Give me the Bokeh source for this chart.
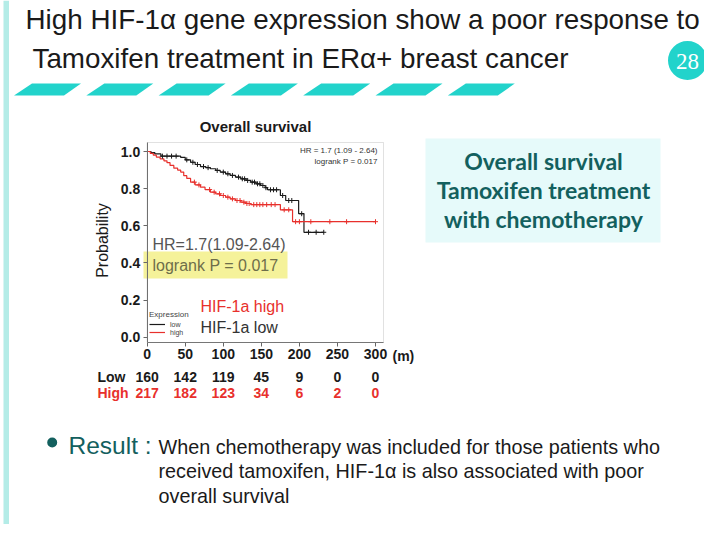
import numpy as np
from bokeh.plotting import figure
from bokeh.models import (Range1d, LinearAxis, FixedTicker, Label, BoxAnnotation,
                          Legend, LegendItem, PrintfTickFormatter)
from bokeh.core.properties import value
from bokeh.embed import file_html
from bokeh.resources import INLINE

# ---------------- data ----------------
low_t = [0, 5, 10, 18, 44, 50, 57, 63, 70, 77, 83, 90, 96, 103, 109, 116, 123, 130,
         136, 143, 149, 155, 158, 175, 182, 199, 206]
low_s = [1.0, 0.994, 0.987, 0.975, 0.968, 0.955, 0.942, 0.93, 0.919, 0.913, 0.907, 0.898,
         0.889, 0.88, 0.871, 0.862, 0.853, 0.844, 0.835, 0.826, 0.817, 0.805, 0.794,
         0.763, 0.736, 0.665, 0.565]
low_end = 232
high_t = [0, 4, 8, 12, 17, 22, 26, 30, 35, 40, 44, 48, 52, 57, 63, 70, 76, 83, 90, 96,
          103, 109, 116, 123, 130, 136, 175, 191]
high_s = [1.0, 0.99, 0.98, 0.97, 0.96, 0.95, 0.94, 0.925, 0.91, 0.9, 0.889, 0.87, 0.855,
          0.835, 0.82, 0.808, 0.795, 0.781, 0.772, 0.763, 0.754, 0.745, 0.736, 0.727,
          0.72, 0.714, 0.686, 0.622]
high_end = 300
low_cens = [20, 26, 32, 38, 52, 60, 66, 74, 80, 92, 100, 106, 112, 120, 125, 128, 132,
            138, 141, 145, 148, 152, 156, 162, 166, 170, 178, 186, 190, 203, 212, 222, 232]
high_cens = [62, 68, 82, 88, 95, 100, 106, 112, 118, 122, 127, 131, 134, 140, 144, 148,
             152, 157, 163, 168, 180, 186, 195, 200, 215, 240, 262, 300]

risk_t = [0, 50, 100, 150, 200, 250, 300]
risk_low = [160, 142, 119, 45, 9, 0, 0]
risk_high = [217, 182, 123, 34, 6, 2, 0]
y_ticks = [0.0, 0.2, 0.4, 0.6, 0.8, 1.0]

title_lines = ["High HIF-1α gene expression show a poor response to",
               "Tamoxifen treatment in ERα+ breast cancer"]
box_lines = ["Overall survival", "Tamoxifen treatment", "with chemotherapy"]
result_lines = ["When chemotherapy was included for those patients who",
                "received tamoxifen, HIF-1α is also associated with poor",
                "overall survival"]

# ---------------- styling / layout ----------------
RED = "#e8302c"
BLK = "#1a1a1a"
TEAL = "#13605e"
TURQ = "#22d3cb"
FONT = "Liberation Sans"

W, H = 704, 524
X0, PXM = 146.7, 0.761         # canvas px of month 0, px per month
Y1, Y0 = 151.0, 336.7          # canvas px of probability 1 and 0
UNIT = Y0 - Y1
BOX_L, BOX_R = 0.0, (383 - X0) / PXM
BOX_B, BOX_T = -(342 - Y0) / UNIT, 1 + (Y1 - 142) / UNIT

p = figure(width=W, height=H, output_backend="svg", toolbar_location=None,
           x_range=Range1d(-X0 / PXM, (W - X0) / PXM),
           y_range=Range1d(-(H - Y0) / UNIT, 1 + Y1 / UNIT),
           x_axis_location=None, y_axis_location=None,
           min_border=0, min_border_left=0, min_border_right=0,
           min_border_top=0, min_border_bottom=0)
p.extra_x_ranges = {"page": Range1d(0, W)}
p.extra_y_ranges = {"page": Range1d(H, 0)}
p.grid.visible = False
p.outline_line_color = None
p.background_fill_color = "white"
p.border_fill_color = "white"

# plot box
p.add_layout(BoxAnnotation(left=BOX_L, right=BOX_R, bottom=BOX_B, top=BOX_T,
                           fill_alpha=0, line_color="#9a9a9a", line_width=1))

# axes (fixed at the chart's box edges)
yax = LinearAxis(fixed_location=0, ticker=FixedTicker(ticks=y_ticks),
                 formatter=PrintfTickFormatter(format="%.1f"), bounds=(BOX_B, BOX_T))
xax = LinearAxis(fixed_location=BOX_B, ticker=FixedTicker(ticks=risk_t),
                 bounds=(BOX_L, BOX_R))
for ax in (xax, yax):
    ax.axis_line_color = "#666666"
    ax.major_tick_line_color = "#666666"
    ax.major_tick_out = 4
    ax.major_tick_in = 0
    ax.minor_tick_line_color = None
    ax.major_label_text_font = FONT
    ax.major_label_text_font_size = "14px"
    ax.major_label_text_font_style = "bold"
    ax.major_label_text_color = BLK
yax.major_label_standoff = 3
xax.major_label_standoff = 2
p.add_layout(yax, "left")
p.add_layout(xax, "below")

# curves
def step_y(ts, ss, q):
    idx = np.searchsorted(np.array(ts), np.array(q), side="right") - 1
    return list(np.array(ss)[idx])

low_r = p.step(low_t + [low_end], low_s + [low_s[-1]], mode="after", color=BLK, line_width=1.2)
high_r = p.step(high_t + [high_end], high_s + [high_s[-1]], mode="after", color=RED, line_width=1.2)
p.scatter(low_cens, step_y(low_t, low_s, low_cens), marker="cross", size=5, color=BLK, line_width=1)
p.scatter(high_cens, step_y(high_t, high_s, high_cens), marker="cross", size=5, color=RED, line_width=1)

# number at risk rows
for vals, col, py in ((risk_low, BLK, 376), (risk_high, RED, 392)):
    yy = (Y0 - py) / UNIT
    p.text(risk_t, [yy] * len(risk_t), text=[str(v) for v in vals], text_color=col,
           text_font=value(FONT), text_font_size="14px", text_font_style="bold",
           text_align="center", text_baseline="middle")

leg = Legend(items=[LegendItem(label="low", renderers=[low_r]),
                    LegendItem(label="high", renderers=[high_r])],
             title="Expression", location=(147, 186))
leg.title_text_font = FONT
leg.title_text_font_size = "8px"
leg.title_text_font_style = "normal"
leg.title_text_color = "#444444"
leg.title_standoff = 1
leg.label_text_font = FONT
leg.label_text_font_size = "7px"
leg.label_text_color = "#444444"
leg.label_height = 8
leg.glyph_height = 8
leg.glyph_width = 16
leg.spacing = 0
leg.padding = 2
leg.margin = 0
leg.background_fill_alpha = 0
leg.border_line_alpha = 0
p.add_layout(leg, "center")

# ---------------- page decorations (canvas pixel coords via "page" ranges) ----------------
def lab(x, y, text, size, color=BLK, style="normal", align="left", font=FONT, angle=0,
        baseline="middle"):
    p.add_layout(Label(x=x, y=y, x_range_name="page", y_range_name="page", text=text,
                       text_font=font, text_font_size=f"{size}px", text_color=color,
                       text_font_style=style, text_align=align, text_baseline=baseline,
                       angle=angle))

def box(l, r, t, b, color):
    p.add_layout(BoxAnnotation(left=l, right=r, top=t, bottom=b, x_range_name="page",
                               y_range_name="page", fill_color=color, fill_alpha=1,
                               line_color=None, level="underlay"))

# left slide bar
box(3, 8.5, 0, H, "#b4ece7")

# title
lab(25, 18.5, title_lines[0], 27.8)
lab(32, 58, title_lines[1], 27.8)
p.scatter([687], [60], size=39, marker="circle", color=TURQ, line_color=None,
          x_range_name="page", y_range_name="page")
lab(687, 61, "28", 23, color="white", align="center", font="Liberation Serif")
pxs, pys = [], []
for i in range(7):
    x0 = 13.5 + i * 72.3
    pxs.append([x0, x0 + 18, x0 + 67, x0 + 50])
    pys.append([95, 83, 83, 95])
p.patches(pxs, pys, fill_color=TURQ, line_color=None, x_range_name="page", y_range_name="page")

# chart texts
lab(255, 126, "Overall survival", 15, style="bold", align="center")
lab(101.7, 240, "Probability", 16, align="center", angle=np.pi / 2)
lab(377, 150, "HR = 1.7 (1.09 - 2.64)", 8, color="#333333", align="right")
lab(377, 161, "logrank P = 0.017", 8, color="#333333", align="right")
lab(152, 244, "HR=1.7(1.09-2.64)", 16, color="#555555")
box(143, 287, 251, 278, "#f5f29a")
lab(152, 265, "logrank P = 0.017", 16, color="#6e6e4a")
lab(200, 306, "HIF-1a high", 16, color=RED)
lab(200, 327, "HIF-1a low", 16, color="#333333")
lab(97, 376, "Low", 14, style="bold")
lab(97, 392, "High", 14, color=RED, style="bold")
lab(392, 355, "(m)", 14, style="bold")

# right text box
box(425, 660, 138, 242, "#e6fafa")
for k, t in enumerate(box_lines):
    lab(543, 160 + 29 * k, t, 23, color=TEAL, style="bold", align="center", font="Lato")

# result text
p.scatter([51.7], [442], size=10, marker="circle", color=TEAL, line_color=None,
          x_range_name="page", y_range_name="page")
lab(68, 445, "Result :", 24.5, color=TEAL)
for k, t in enumerate(result_lines):
    lab(158, 446 + 24.5 * k, t, 19.8)

open("out.html", "w").write(file_html(p, INLINE))
